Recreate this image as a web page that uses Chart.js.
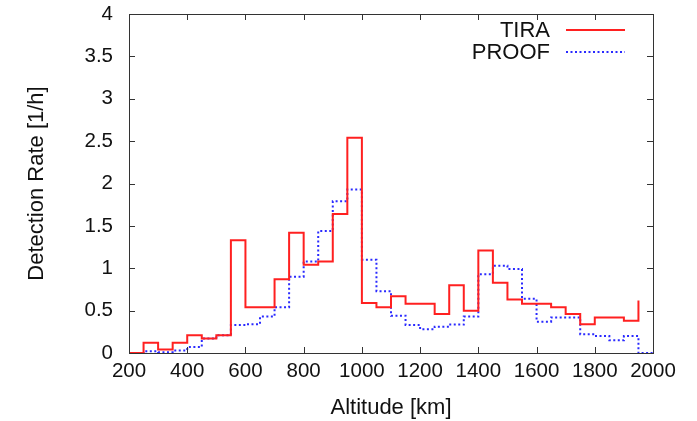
<!DOCTYPE html>
<html>
<head>
<meta charset="utf-8">
<script src="https://cdn.jsdelivr.net/npm/chart.js@4"></script>
<style>
  html, body { margin: 0; padding: 0; background: #fff; }
  #wrap { width: 697px; height: 421px; }
</style>
</head>
<body>
<div id="wrap"><canvas id="rateChart" width="697" height="421"></canvas></div>
<script>
// bin start altitudes [km]
const altitudes = [200, 250, 300, 350, 400, 450, 500, 550, 600, 650,
  700, 750, 800, 850, 900, 950, 1000, 1050, 1100, 1150,
  1200, 1250, 1300, 1350, 1400, 1450, 1500, 1550, 1600, 1650,
  1700, 1750, 1800, 1850, 1900, 1950, 2000];

// detection rate [1/h]
const tiraRate = [0, 0.12, 0.04, 0.12, 0.21, 0.17, 0.21, 1.33, 0.54, 0.54,
  0.87, 1.42, 1.04, 1.08, 1.64, 2.54, 0.59, 0.54, 0.67, 0.58,
  0.58, 0.46, 0.80, 0.50, 1.21, 0.83, 0.63, 0.58, 0.58, 0.54,
  0.46, 0.34, 0.42, 0.42, 0.38, 0.62];
const proofRate = [0, 0.02, 0.01, 0.03, 0.07, 0.17, 0.21, 0.33, 0.34, 0.43,
  0.54, 0.90, 1.08, 1.44, 1.79, 1.93, 1.10, 0.73, 0.44, 0.33,
  0.28, 0.31, 0.335, 0.43, 0.93, 1.03, 0.99, 0.64, 0.37, 0.42,
  0.42, 0.22, 0.20, 0.15, 0.20, 0, 0];

const xTicks = [200, 400, 600, 800, 1000, 1200, 1400, 1600, 1800, 2000];
const yTicks = [0, 0.5, 1, 1.5, 2, 2.5, 3, 3.5, 4];

const FONT = '"Liberation Sans", Arial, Helvetica, sans-serif';

function toPoints(vals) {
  return vals.map((v, i) => ({ x: altitudes[i], y: v }));
}

function noPad(s) {
  s.paddingTop = 0; s.paddingBottom = 0;
  s.paddingLeft = 0; s.paddingRight = 0;
}

// 테두리, 안쪽 눈금, 범례
const framePlugin = {
  id: 'frame',
  afterDraw(chart) {
    const ctx = chart.ctx;
    const a = chart.chartArea;
    const xs = chart.scales.x, ys = chart.scales.y;
    const tl = 6;
    ctx.save();
    ctx.strokeStyle = '#333';
    ctx.lineWidth = 1;
    ctx.beginPath();
    xTicks.forEach(v => {
      const px = Math.round(xs.getPixelForValue(v)) + 0.5;
      ctx.moveTo(px, a.bottom); ctx.lineTo(px, a.bottom - tl);
      ctx.moveTo(px, a.top); ctx.lineTo(px, a.top + tl);
    });
    yTicks.forEach(v => {
      const py = Math.round(ys.getPixelForValue(v)) + 0.5;
      ctx.moveTo(a.left, py); ctx.lineTo(a.left + tl, py);
      ctx.moveTo(a.right, py); ctx.lineTo(a.right - tl, py);
    });
    ctx.stroke();
    ctx.strokeRect(Math.round(a.left) + 0.5, Math.round(a.top) + 0.5,
      Math.round(a.right - a.left), Math.round(a.bottom - a.top));

    // legend
    ctx.font = '22px ' + FONT;
    ctx.fillStyle = '#111';
    ctx.textAlign = 'right';
    ctx.textBaseline = 'middle';
    const textX = 550, lineX0 = 566, lineX1 = 625;
    chart.data.datasets.forEach((ds, i) => {
      const y = 31 + i * 22;
      ctx.fillText(ds.label, textX, y);
      ctx.beginPath();
      ctx.strokeStyle = ds.borderColor;
      ctx.lineWidth = ds.borderWidth;
      ctx.setLineDash(ds.borderDash || []);
      ctx.moveTo(lineX0, y - 1); ctx.lineTo(lineX1, y - 1);
      ctx.stroke();
      ctx.setLineDash([]);
    });
    ctx.restore();
  }
};

new Chart(document.getElementById('rateChart'), {
  type: 'line',
  data: {
    datasets: [{
      label: 'TIRA',
      data: toPoints(tiraRate),
      borderColor: '#ff2020',
      borderWidth: 2,
      stepped: 'before',
      pointRadius: 0,
      fill: false
    }, {
      label: 'PROOF',
      data: toPoints(proofRate),
      borderColor: '#2a2aff',
      borderWidth: 2,
      borderDash: [2, 2.5],
      stepped: 'before',
      pointRadius: 0,
      fill: false
    }]
  },
  options: {
    responsive: false,
    animation: false,
    layout: { padding: { top: 14, right: 44, left: 0, bottom: 0 } },
    plugins: {
      legend: { display: false },
      tooltip: { enabled: false }
    },
    scales: {
      x: {
        type: 'linear',
        min: 200, max: 2000,
        afterBuildTicks: s => { s.ticks = xTicks.map(v => ({ value: v })); },
        afterFit: s => { s.height = 68; noPad(s); },
        grid: { display: false, drawTicks: false },
        border: { display: false },
        ticks: {
          color: '#111',
          font: { family: FONT, size: 20.5 },
          padding: 6,
          maxRotation: 0,
          autoSkip: false,
          callback: v => String(v)
        },
        title: {
          display: true,
          text: 'Altitude [km]',
          color: '#111',
          font: { family: FONT, size: 22 },
          padding: { top: 0, bottom: 0 }
        }
      },
      y: {
        min: 0, max: 4,
        afterBuildTicks: s => { s.ticks = yTicks.map(v => ({ value: v })); },
        afterFit: s => { s.width = 129; noPad(s); },
        grid: { display: false, drawTicks: false },
        border: { display: false },
        ticks: {
          color: '#111',
          font: { family: FONT, size: 20.5 },
          padding: 16,
          callback: v => String(v)
        },
        title: {
          display: true,
          text: 'Detection Rate [1/h]',
          color: '#111',
          font: { family: FONT, size: 22 },
          padding: { top: 24, bottom: 0 }
        }
      }
    }
  },
  plugins: [framePlugin]
});
</script>
</body>
</html>
